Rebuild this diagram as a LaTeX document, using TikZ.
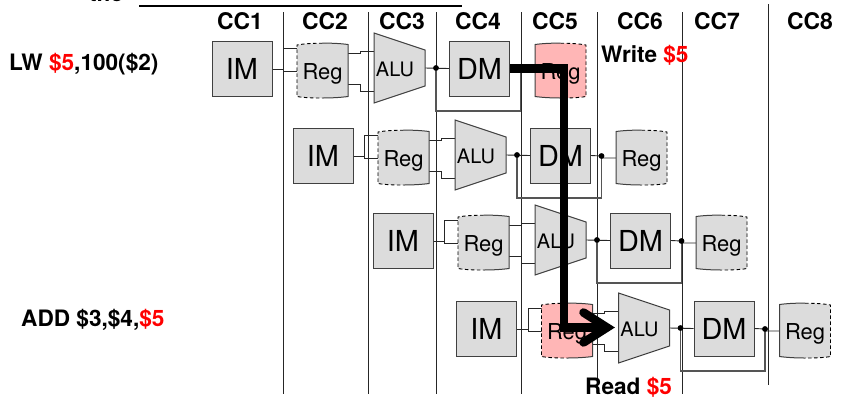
\documentclass[tikz,border=0pt]{standalone}
\usepackage{fontspec}
\setmainfont{TeX Gyre Heros}
\definecolor{boxgray}{HTML}{DCDCDC}
\definecolor{pinkreg}{HTML}{FFB6B6}
\definecolor{edgegray}{HTML}{404040}
\definecolor{wiregray}{HTML}{555555}
\tikzset{
  gridline/.style={draw=black!85,line width=0.8bp},
  cclabel/.style={inner sep=0pt,font=\fontsize{23}{23}\selectfont\bfseries},
  notelabel/.style={inner sep=0pt,anchor=west,font=\fontsize{22.7}{23}\selectfont\bfseries},
  membox/.style={draw=edgegray,fill=boxgray,line width=1bp,minimum width=60bp,minimum height=55bp,inner sep=0pt,font=\fontsize{29}{29}\selectfont},
  regtext/.style={inner sep=0pt,anchor=base,font=\fontsize{22}{22}\selectfont},
  alutext/.style={inner sep=0pt,anchor=base,font=\fontsize{20}{20}\selectfont},
  wire/.style={draw=black!85,line width=0.9bp},
  backwire/.style={draw=wiregray,line width=1.1bp},
  junction/.style={circle,fill=black,inner sep=0pt,minimum size=5.5bp},
  hazard/.style={draw=black,line width=8.5bp},
  hazardtip/.style={draw=black,line width=8.5bp,line cap=round},
}
% register body: #1 centre x, #2 centre y, #3 fill, #4 = 1 dashed left / -1 dashed right
\newcommand\regshape[4]{%
  \begin{scope}[shift={(#1,#2)},xscale=#4]
    \fill[#3] (-25.5,-25.5) .. controls (-15,-27.5) and (10,-28) .. (25.5,-26)
      -- (25.5,26) .. controls (10,28) and (-15,28) .. (-25.5,26) -- cycle;
    \draw[draw=black,line width=0.9bp,dash pattern=on 3.5bp off 2.5bp]
      (0,-27.3) .. controls (-9,-27.3) and (-18,-26.9) .. (-25.5,-25.5) -- (-25.5,26) .. controls (-18,27.3) and (-9,27.5) .. (0,27.5);
    \draw[draw=edgegray,line width=1bp]
      (0,-27.3) .. controls (9,-27.5) and (18,-27) .. (25.5,-26)
      -- (25.5,26) .. controls (18,27) and (9,27.5) .. (0,27.5);
  \end{scope}}
% one pipeline row: #1 name, #2 dx, #3 dy, #4 decode fill, #5 write-back fill
\newcommand\pipeline[5]{%
  \begin{scope}[shift={(#2,#3)}]
    \coordinate (imup#1) at (283.5,48);
    \coordinate (imjoin#1) at (283.5,69);
    \coordinate (imlow#1) at (283.5,71);
    \coordinate (regin#1a) at (297,48);
    \coordinate (regin#1b) at (297,71);
    \coordinate (regout#1a) at (348,53);
    \coordinate (regout#1b) at (348,84);
    \coordinate (alu#1a) at (374,51);
    \coordinate (alu#1b) at (374,91);
    \coordinate (alu#1out) at (425,68);
    \coordinate (fb#1l) at (436,111);
    \coordinate (fb#1r) at (520.5,111);
    \coordinate (wbin#1) at (535,71);
    \draw[wire] (imjoin#1) -- (imup#1) -- (regin#1a);
    \draw[wire] (imjoin#1) -- (imlow#1) -- (regin#1b);
    \draw[wire] (regout#1a) -- ++(12,0) |- (alu#1a);
    \draw[wire] (regout#1b) -- ++(12,0) |- (alu#1b);
    \node[junction] (dota#1) at (436,68) {};
    \node[junction] (dotb#1) at (520.5,69) {};
    \draw[backwire] (dota#1.center) -- (fb#1l) -- (fb#1r) -- (dotb#1.center);
    \node[membox] (im#1) at (242,69) {IM};
    \node[membox] (dm#1) at (479.5,68.5) {DM};
    \draw[wire] (im#1.east) -- (imjoin#1);
    \draw[wire] (alu#1out) -- (dm#1.west);
    \draw[wire] (dm#1.east) -- (dotb#1.center) |- (wbin#1);
    \regshape{322.5}{70.5}{#4}{1}
    \regshape{560.5}{70.5}{#5}{-1}
    \node[regtext] (reg#1) at (322.5,79) {Reg};
    \node[regtext] (wb#1) at (560.5,79) {Reg};
    \draw[draw=edgegray,fill=boxgray,line width=1bp] (374,33) -- (425,50) -- (425,86) -- (374,103) -- cycle;
    \node[alutext] (alu#1) at (395,76) {ALU};
    \node[junction] at (dota#1) {};
    \node[junction] at (dotb#1) {};
  \end{scope}}
\begin{document}
\begin{tikzpicture}[x=1bp,y=-1bp]
  \clip (0,0) rectangle (848,399);
  \fill[white] (0,0) rectangle (848,399);
  % heading remnant
  \node[inner sep=0pt,anchor=base west,font=\fontsize{22.7}{23}\selectfont\bfseries] (headword) at (89,1.5) {the};
  \coordinate (rulea) at (139,6);
  \coordinate (ruleb) at (462,6);
  \draw[draw=black,line width=1.4bp] (rulea) -- (ruleb);
  % clock-cycle separators
  \foreach \n/\x/\t/\b in {a/283/12/394,b/368/12/394,c/436/12/394,d/521/12/394,e/597.5/12/394,f/682.5/12/394,g/768/4/385}{
    \coordinate (top\n) at (\x,\t);
    \coordinate (bot\n) at (\x,\b);
    \draw[gridline] (top\n) -- (bot\n);
  }
  \foreach \n/\x in {1/240,2/325,3/402,4/478,5/555,6/640,7/717,8/810}{
    \node[cclabel] (cc\n) at (\x,21) {CC\n};
  }
  % pipeline rows
  \pipeline{1}{0}{0}{boxgray}{pinkreg}
  \pipeline{2}{81}{87}{boxgray}{boxgray}
  \pipeline{3}{161}{172}{boxgray}{boxgray}
  \pipeline{4}{244.5}{260}{pinkreg}{boxgray}
  % side labels
  \node[notelabel] (lw) at (9,64) {LW \textcolor{red}{\$5},100(\$2)};
  \node[notelabel] (add) at (21,320) {ADD \$3,\$4,\textcolor{red}{\$5}};
  \node[notelabel] (write) at (601,55) {Write \textcolor{red}{\$5}};
  \node[notelabel] (read) at (585,387) {Read \textcolor{red}{\$5}};
  % forwarding path
  \coordinate (bendtop) at (564,68.5);
  \coordinate (bendbot) at (564,327.5);
  \coordinate (arrowtip) at (607,327.5);
  \coordinate (barbup) at (583.5,312.5);
  \coordinate (barblow) at (583.5,342.5);
  \draw[hazard] (dm1.east) -- (bendtop) -- (bendbot) -- (arrowtip);
  \draw[hazardtip] (barbup) -- (arrowtip) -- (barblow);
\end{tikzpicture}
\end{document}
